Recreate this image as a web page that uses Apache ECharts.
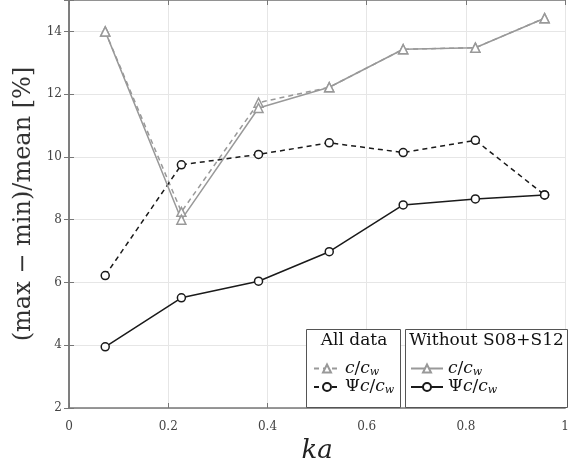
<!DOCTYPE html>
<html><head><meta charset="utf-8">
<script src="https://cdn.jsdelivr.net/npm/echarts@6/dist/echarts.min.js"></script>
<style>html,body{margin:0;padding:0;background:#fff}#c{width:572px;height:469px}</style>
</head><body><div id="c"></div>
<script>
const ka = [0.073, 0.2265, 0.382, 0.5245, 0.6735, 0.819, 0.9585];
const allC = [14.0, 8.25, 11.73, 12.22, 13.43, 13.48, 14.42];
const allPsi = [6.22, 9.75, 10.08, 10.45, 10.14, 10.53, 8.79];
const woC = [14.0, 8.0, 11.56, 12.22, 13.43, 13.48, 14.42];
const woPsi = [3.95, 5.51, 6.04, 6.98, 8.47, 8.66, 8.79];
const xTicks = [0, 0.2, 0.4, 0.6, 0.8, 1];
const yTicks = [2, 4, 6, 8, 10, 12, 14];

const serif = 'DejaVu Serif';
const grey = '#999999';
const black = '#1a1a1a';
const pair = (xs, ys) => xs.map((x, i) => [x, ys[i]]);

const chart = echarts.init(document.getElementById('c'));
const labelRich = {
  it: {fontFamily: serif, fontStyle: 'italic', fontSize: 17, color: '#111'},
  n: {fontFamily: serif, fontSize: 17, color: '#111'},
  sub: {fontFamily: serif, fontStyle: 'italic', fontSize: 11, color: '#111', verticalAlign: 'bottom', padding: [7, 0, 0, 0]}
};
const names = {
  'All c': '{it|c}{n|/}{it|c}{sub|w}',
  'All psi': '{n|Ψ}{it|c}{n|/}{it|c}{sub|w}',
  'Wo c': '{it|c}{n|/}{it|c}{sub|w}',
  'Wo psi': '{n|Ψ}{it|c}{n|/}{it|c}{sub|w}'
};
const axisCommon = {
  axisLine: {show: true, lineStyle: {color: '#777', width: 1.5}},
  axisTick: {show: true, inside: true, length: 5, lineStyle: {color: '#777'}},
  splitLine: {show: false}
};
chart.setOption({
  animation: false,
  grid: {left: 69, right: 1, top: 0, bottom: 58},
  xAxis: [{
    type: 'value', min: 0, max: 1, interval: 0.2,
    name: 'ka', nameLocation: 'middle', nameGap: 30,
    nameTextStyle: {fontFamily: serif, fontStyle: 'italic', fontSize: 26, color: '#222'},
    axisLabel: {fontFamily: serif, fontSize: 12, color: '#444', margin: 13,
      formatter: v => (xTicks.indexOf(+v.toFixed(1)) >= 0 ? String(+v.toFixed(1)) : '')},
    ...axisCommon,
    splitLine: {show: true, lineStyle: {color: '#e6e6e6', width: 1}}
  }, {
    type: 'value', min: 0, max: 1, interval: 0.2, position: 'top',
    axisLabel: {show: false}, ...axisCommon
  }],
  yAxis: [{
    type: 'value', min: 2, max: 15, interval: 2,
    name: '(max − min)/mean [%]', nameLocation: 'middle', nameGap: 30,
    nameTextStyle: {fontFamily: serif, fontSize: 24, color: '#333'},
    axisLabel: {fontFamily: serif, fontSize: 12, color: '#444', margin: 7,
      formatter: v => (yTicks.indexOf(v) >= 0 ? String(v) : '')},
    ...axisCommon,
    splitLine: {show: true, lineStyle: {color: '#e6e6e6', width: 1}}
  }, {
    type: 'value', min: 2, max: 15, interval: 2, position: 'right',
    axisLabel: {show: false}, ...axisCommon
  }],
  legend: [{
    orient: 'vertical', left: 308, top: 355, itemGap: 1, itemWidth: 26, itemHeight: 10,
    data: ['All c', 'All psi'], z: 10,
    formatter: n => names[n], textStyle: {rich: labelRich}
  }, {
    orient: 'vertical', left: 405, top: 355, itemGap: 1, itemWidth: 32, itemHeight: 10,
    data: ['Wo c', 'Wo psi'], z: 10,
    formatter: n => names[n], textStyle: {rich: labelRich}
  }],
  graphic: [
    {type: 'rect', z: 8, shape: {x: 306.5, y: 329.5, width: 94, height: 78},
      style: {fill: '#fff', stroke: '#555', lineWidth: 1}},
    {type: 'rect', z: 8, shape: {x: 405.5, y: 329.5, width: 162, height: 78},
      style: {fill: '#fff', stroke: '#555', lineWidth: 1}},
    {type: 'text', z: 9, x: 354, y: 332, style: {text: 'All data', fontFamily: serif, fontSize: 17, fill: '#111', textAlign: 'center'}},
    {type: 'text', z: 9, x: 486.5, y: 332, style: {text: 'Without S08+S12', fontFamily: serif, fontSize: 17, fill: '#111', textAlign: 'center'}}
  ],
  series: [
    {name: 'All c', type: 'line', data: pair(ka, allC), symbol: 'triangle', symbolSize: 9,
      lineStyle: {color: grey, width: 1.5, type: [5, 4]},
      itemStyle: {color: '#fff', borderColor: grey, borderWidth: 1.5}, color: grey},
    {name: 'All psi', type: 'line', data: pair(ka, allPsi), symbol: 'circle', symbolSize: 8,
      lineStyle: {color: black, width: 1.5, type: [5, 4]},
      itemStyle: {color: '#fff', borderColor: black, borderWidth: 1.5}, color: black},
    {name: 'Wo c', type: 'line', data: pair(ka, woC), symbol: 'triangle', symbolSize: 9,
      lineStyle: {color: grey, width: 1.5},
      itemStyle: {color: '#fff', borderColor: grey, borderWidth: 1.5}, color: grey},
    {name: 'Wo psi', type: 'line', data: pair(ka, woPsi), symbol: 'circle', symbolSize: 8,
      lineStyle: {color: black, width: 1.5},
      itemStyle: {color: '#fff', borderColor: black, borderWidth: 1.5}, color: black}
  ]
});
</script></body></html>
